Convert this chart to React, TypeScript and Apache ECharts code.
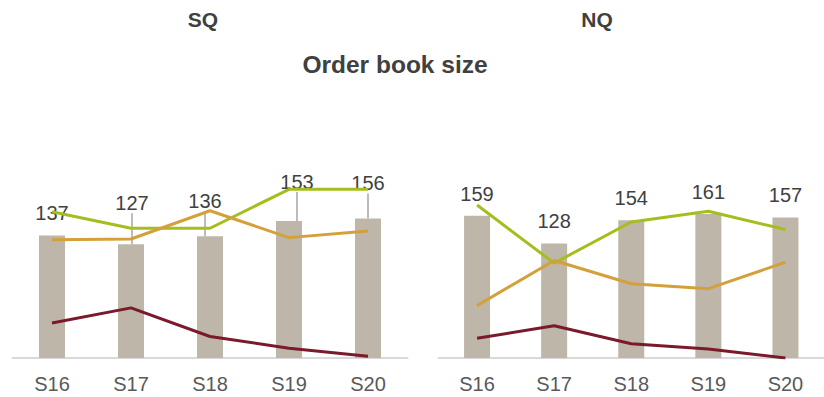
import React, { useEffect, useRef } from "react";
import * as echarts from "echarts";

const seasons = ["S16", "S17", "S18", "S19", "S20"];

// Order book totals (bars, labelled)
const sqOrderBook = [137, 127, 136, 153, 156];
const nqOrderBook = [159, 128, 154, 161, 157];

// Component trend lines, same scale as the bars
const sqGreen = [163.5, 145, 145, 188.5, 188.5];
const sqOrange = [132, 133, 164.5, 134.5, 142];
const sqRed = [39, 56, 24, 11, 2];

const nqGreen = [171, 106, 152, 164, 143.5];
const nqOrange = [58.5, 109, 83, 77.5, 107];
const nqRed = [22, 36, 16, 10, 0];

// Manual nudges for the SQ value labels (pixels)
const sqLabelShift: [number, number][] = [
  [0, 0],
  [1, -19],
  [-5, -13],
  [8, -17],
  [0, -13],
];

const FONT = "'Liberation Sans', Arial, sans-serif";
const BAR = "#beb6a9";
const GREEN = "#a5be1e";
const ORANGE = "#d4a03c";
const RED = "#7a1a2a";

export default function App() {
  const ref = useRef<HTMLDivElement>(null);

  useEffect(() => {
    if (!ref.current) return;
    const chart = echarts.init(ref.current, null, { renderer: "svg" });

    const lineSeries = (data: number[], color: string, idx: number) => ({
      type: "line",
      data,
      xAxisIndex: idx,
      yAxisIndex: idx,
      symbol: "none",
      lineStyle: { color, width: 3 },
      z: 3,
    });

    const barSeries = (data: number[], idx: number, shift?: [number, number][]) => ({
      type: "bar",
      // leader lines only where a label has been pulled away from its bar
      data: data.map((v, i) => ({
        value: v,
        labelLine: { show: !!shift && (shift[i][0] !== 0 || shift[i][1] !== 0) },
      })),
      xAxisIndex: idx,
      yAxisIndex: idx,
      barWidth: 26,
      itemStyle: { color: BAR },
      label: {
        show: true,
        position: "top",
        distance: 12,
        fontFamily: FONT,
        fontSize: 20,
        color: "#404040",
      },
      labelLine: { lineStyle: { color: "#a6a6a6", width: 1.5 } },
      labelLayout: shift
        ? (params: any) => ({ dx: shift[params.dataIndex][0], dy: shift[params.dataIndex][1] })
        : undefined,
      z: 2,
    });

    const xAxis = (idx: number) => ({
      type: "category",
      data: seasons,
      gridIndex: idx,
      axisLine: { lineStyle: { color: "#d9d9d9", width: 2 } },
      axisTick: { show: false },
      axisLabel: { color: "#595959", fontFamily: FONT, fontSize: 20, margin: 16 },
    });

    const yAxis = (idx: number) => ({
      type: "value",
      gridIndex: idx,
      min: 0,
      max: 200,
      show: false,
      splitLine: { show: false },
    });

    const heading = (text: string, x: number, y: number, size: number) => ({
      text,
      left: x,
      top: y,
      textAlign: "center",
      padding: 0,
      textStyle: { fontFamily: FONT, fontSize: size, fontWeight: "bold", color: "#404040" },
    });

    chart.setOption({
      animation: false,
      backgroundColor: "#ffffff",
      title: [
        heading("SQ", 203, 8.5, 21),
        heading("NQ", 597, 8.5, 21),
        heading("Order book size", 395, 52, 24.5),
      ],
      grid: [
        { left: 12.5, width: 395, top: 179, height: 179 },
        { left: 438.5, width: 395, top: 179, height: 179 },
      ],
      xAxis: [xAxis(0), xAxis(1)],
      yAxis: [yAxis(0), yAxis(1)],
      series: [
        barSeries(sqOrderBook, 0, sqLabelShift),
        lineSeries(sqGreen, GREEN, 0),
        lineSeries(sqOrange, ORANGE, 0),
        lineSeries(sqRed, RED, 0),
        barSeries(nqOrderBook, 1),
        lineSeries(nqGreen, GREEN, 1),
        lineSeries(nqOrange, ORANGE, 1),
        lineSeries(nqRed, RED, 1),
      ],
    });

    return () => chart.dispose();
  }, []);

  return <div ref={ref} style={{ width: 824, height: 397, position: "absolute", left: 0, top: 0 }} />;
}
